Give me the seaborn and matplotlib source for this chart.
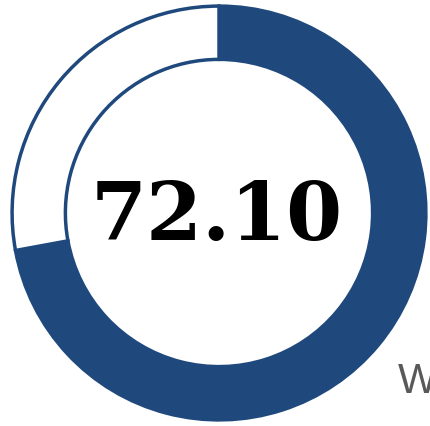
import matplotlib
matplotlib.use("Agg")
import matplotlib.pyplot as plt
import seaborn as sns

# Giá trị của biểu đồ vòng
labels = ["Đạt", "Còn lại"]
values = [72.10, 27.90]
center_label = "72.10"
side_label = "W"

sns.set_style("white")

fig = plt.figure(figsize=(4.31, 4.26), dpi=100)
# Tâm vòng ở (219, 213) px, bán kính ~209 px
ax = fig.add_axes([(219 - 209) / 431, (426 - 213 - 209) / 426, 418 / 431, 418 / 426])

ax.pie(
    values,
    colors=["#1f497d", "white"],
    startangle=90,
    counterclock=False,
    radius=0.99,
    wedgeprops=dict(width=0.255, edgecolor="#1f497d", linewidth=2.5),
)
ax.set_xlim(-1, 1)
ax.set_ylim(-1, 1)
ax.axis("off")

# Số ở giữa
ax.text(-0.01, -0.026, center_label, ha="center", va="center",
        fontsize=58, fontweight="bold", family="DejaVu Serif", color="black")

# Chữ bị cắt ở góc phải dưới (giống ảnh gốc)
fig.text(398 / 431, 1 - 382 / 426, side_label, ha="left", va="center",
         fontsize=30, color="#595959", family="Liberation Sans")

fig.savefig("out.png", dpi=100)
